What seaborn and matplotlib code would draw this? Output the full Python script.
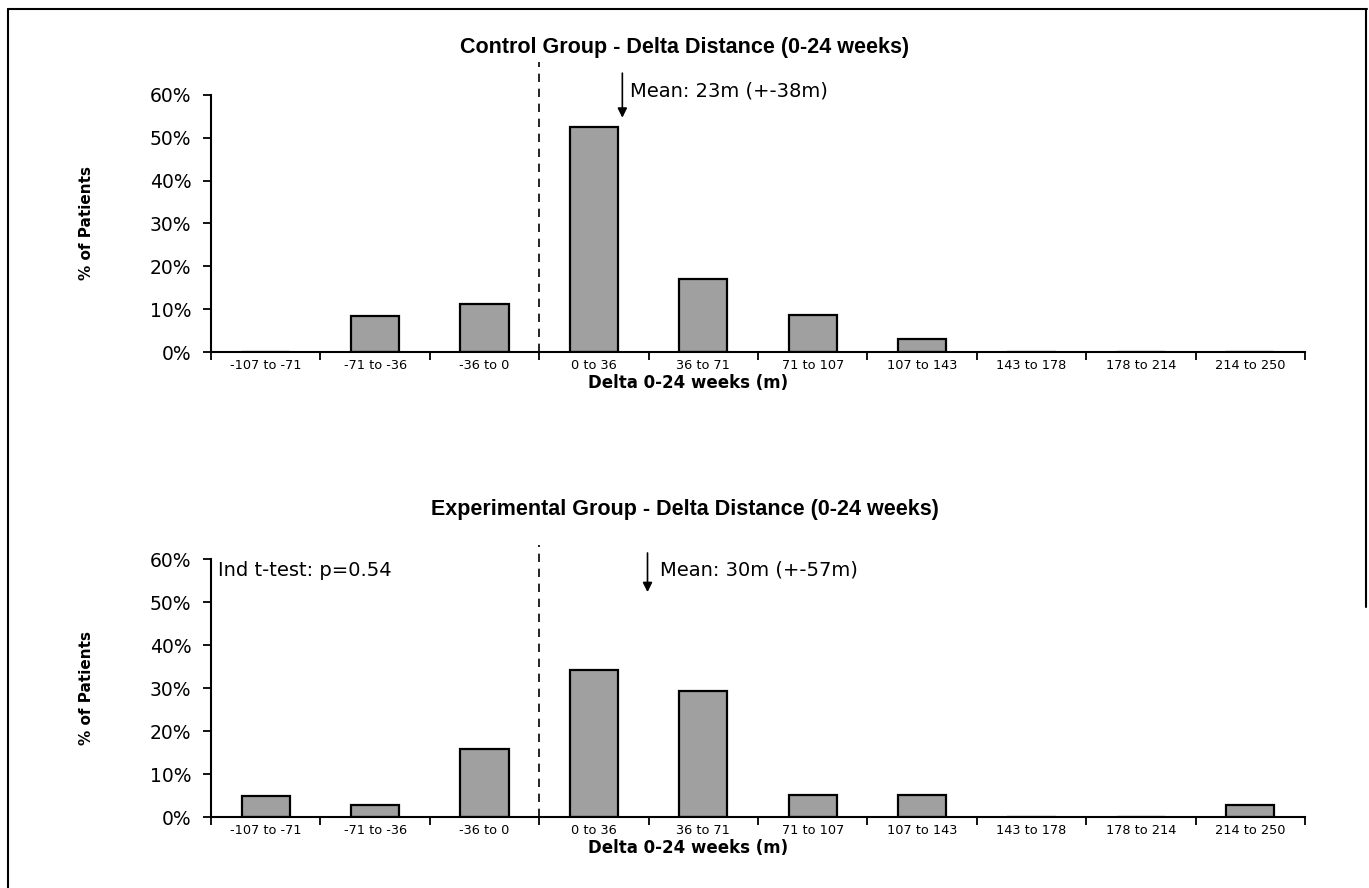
import numpy as np
import pandas as pd
import matplotlib
matplotlib.use("Agg")
import matplotlib.pyplot as plt
import seaborn as sns
from matplotlib.lines import Line2D
from matplotlib.ticker import FixedLocator, FuncFormatter

# ---- data ----
bins = ["-107 to -71", "-71 to -36", "-36 to 0", "0 to 36", "36 to 71",
        "71 to 107", "107 to 143", "143 to 178", "178 to 214", "214 to 250"]
control_pct = [0.0, 8.4, 11.3, 52.6, 17.1, 8.6, 3.0, 0.0, 0.0, 0.0]
experimental_pct = [5.0, 2.7, 15.8, 34.3, 29.2, 5.2, 5.2, 0.0, 0.0, 2.8]
y_ticks = [0, 10, 20, 30, 40, 50, 60]
titles = ["Control Group - Delta Distance (0-24 weeks)",
          "Experimental Group - Delta Distance (0-24 weeks)"]
mean_labels = ["Mean: 23m (+-38m)", "Mean: 30m (+-57m)"]
ttest_label = "Ind t-test: p=0.54"
xlabel = "Delta 0-24 weeks (m)"
ylabel = "% of Patients"

sns.set_style("white")
plt.rcParams["font.family"] = ["DejaVu Sans"]
plt.rcParams.update({"text.color": "black", "axes.labelcolor": "black",
                     "xtick.color": "black", "ytick.color": "black"})

W, H = 1369, 888
fig = plt.figure(figsize=(W / 100, H / 100), dpi=100)
fig.patch.set_facecolor("white")

def fx(px):
    return px / W

def fy(py):
    return 1 - py / H

title_font = ["Liberation Sans", "DejaVu Sans"]

panels = [
    dict(vals=control_pct, top=95, bot=352, title_y=47, xlab_y=383,
         arrow_x=3.26, arrow=(65.1, 54.7), text_xy=(3.33, 61.0),
         dash_top=67.7, ttest=False),
    dict(vals=experimental_pct, top=559, bot=817, title_y=510, xlab_y=848,
         arrow_x=3.49, arrow=(61.4, 52.3), text_xy=(3.6, 57.4),
         dash_top=63.3, ttest=True),
]

for i, p in enumerate(panels):
    ax = fig.add_axes([fx(211), fy(p["bot"]), fx(1305) - fx(211),
                       fy(p["top"]) - fy(p["bot"])])
    df = pd.DataFrame({"bin": bins, "pct": p["vals"]})
    sns.barplot(data=df, x="bin", y="pct", order=bins, color="#a0a0a0",
                saturation=1, width=0.44, edgecolor="black", linewidth=1.6,
                ax=ax)
    ax.set_xlim(-0.5, len(bins) - 0.5)
    ax.set_ylim(0, 60)
    ax.set_yticks(y_ticks)
    ax.yaxis.set_major_formatter(FuncFormatter(lambda v, _: f"{int(v)}%"))
    ax.xaxis.set_minor_locator(FixedLocator(np.arange(-0.5, len(bins), 1.0)))
    ax.tick_params(axis="x", which="major", length=0, labelsize=9.3, pad=5,
                   bottom=True)
    ax.tick_params(axis="x", which="minor", length=6, width=1.3,
                   direction="out", color="black", bottom=True)
    ax.tick_params(axis="y", length=6, width=1.3, direction="out",
                   labelsize=13.5, color="black", pad=8, left=True)
    ax.set_xlabel("")
    ax.set_ylabel(ylabel, fontsize=11, fontweight="bold", labelpad=40)
    for s in ["top", "right"]:
        ax.spines[s].set_visible(False)
    for s in ["left", "bottom"]:
        ax.spines[s].set_color("black")
        ax.spines[s].set_linewidth(1.5)

    # dashed separator at zero
    ax.plot([2.5, 2.5], [0, p["dash_top"]], ls=(0, (5, 4)), color="black",
            lw=1.2, clip_on=False)
    # mean arrow
    ax.annotate("", xy=(p["arrow_x"], p["arrow"][1]),
                xytext=(p["arrow_x"], p["arrow"][0]),
                arrowprops=dict(arrowstyle="-|>", color="black", lw=1.2,
                                mutation_scale=14, shrinkA=0, shrinkB=0),
                annotation_clip=False)
    ax.text(p["text_xy"][0], p["text_xy"][1], mean_labels[i], fontsize=14,
            va="center", ha="left")
    if p["ttest"]:
        ax.text(-0.44, 57.4, ttest_label, fontsize=14, va="center", ha="left")

    fig.text(0.5, fy(p["title_y"]), titles[i], ha="center", va="center",
             fontsize=15.5, fontweight="bold", family=title_font)
    fig.text(fx(688), fy(p["xlab_y"]), xlabel, ha="center", va="center",
             fontsize=12, fontweight="bold")

# outer frame
fig.add_artist(Line2D([fx(8), fx(8)], [0, fy(9)], transform=fig.transFigure,
                      color="black", lw=1.5))
fig.add_artist(Line2D([fx(8), fx(1367)], [fy(9), fy(9)],
                      transform=fig.transFigure, color="black", lw=1.5))
fig.add_artist(Line2D([fx(1366), fx(1366)], [fy(9), fy(607)],
                      transform=fig.transFigure, color="black", lw=1.5))

fig.savefig("out.png", dpi=100)
